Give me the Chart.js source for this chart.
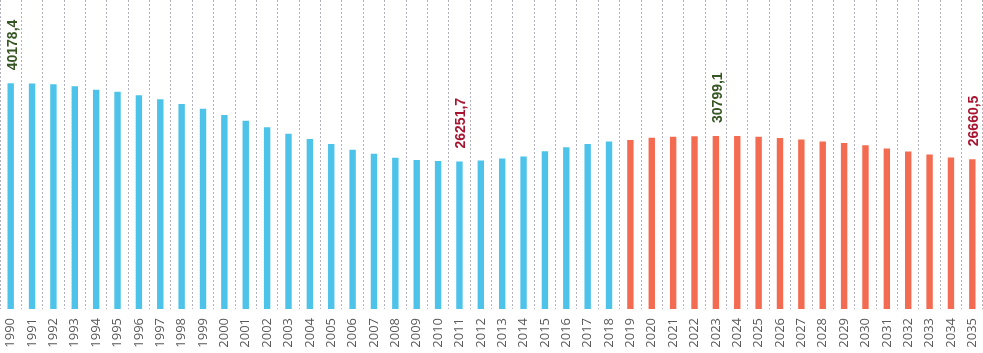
<!DOCTYPE html>
<html>
<head>
<meta charset="utf-8">
<script src="https://cdn.jsdelivr.net/npm/chart.js@4"></script>
<style>
  html, body { margin: 0; padding: 0; background: #fff; }
  #wrap { width: 983px; height: 353px; }
</style>
</head>
<body>
<div id="wrap"><canvas id="chart"></canvas></div>
<script>
const years = [];
for (let y = 1990; y <= 2035; y++) years.push(String(y));

// history 1990-2018, forecast 2019-2035
const actualValues = [
  40178.4, 40150, 40000, 39640, 39035, 38680, 38040, 37330, 36490, 35650,
  34530, 33520, 32340, 31200, 30260, 29370, 28355, 27640, 26930, 26520,
  26350, 26251.7, 26420, 26800, 27150, 28100, 28800, 29350, 29800
];
const forecastValues = [
  30100, 30500, 30650, 30760, 30799.1, 30780, 30650, 30450, 30150, 29800,
  29550, 29150, 28560, 28020, 27480, 26970, 26660.5
];

// highlighted values: year -> colour
const markedYears = ["1990", "2011", "2023", "2035"];
const markedColors = ["#375623", "#a8142f", "#375623", "#a8142f"];

const allValues = actualValues.concat(forecastValues);
const barColors = years.map((_, i) => i < actualValues.length ? "#4dc3e9" : "#f36c51");

const fmt = v => v.toFixed(1).replace(".", ",");

const valueLabels = {
  id: "valueLabels",
  afterDatasetsDraw(chart) {
    const ctx = chart.ctx;
    const meta = chart.getDatasetMeta(0);
    ctx.save();
    ctx.font = "bold 14px 'Liberation Sans', Arial, sans-serif";
    ctx.textAlign = "left";
    ctx.textBaseline = "middle";
    markedYears.forEach((yr, k) => {
      const i = years.indexOf(yr);
      const bar = meta.data[i];
      ctx.save();
      ctx.translate(bar.x + 2, bar.y - 13);
      ctx.rotate(-Math.PI / 2);
      ctx.fillStyle = markedColors[k];
      ctx.fillText(fmt(allValues[i]), 0, 0);
      ctx.restore();
    });
    ctx.restore();
  }
};

new Chart(document.getElementById("chart"), {
  type: "bar",
  data: {
    labels: years,
    datasets: [{
      data: allValues,
      backgroundColor: barColors,
      categoryPercentage: 1,
      barPercentage: 0.3
    }]
  },
  options: {
    responsive: true,
    maintainAspectRatio: false,
    animation: false,
    layout: { padding: 0 },
    plugins: {
      legend: { display: false },
      tooltip: { enabled: false }
    },
    scales: {
      x: {
        offset: true,
        grid: {
          offset: true,
          color: "#b0b0c0",
          lineWidth: 1,
          drawTicks: false
        },
        border: { display: false, dash: [2, 2] },
        ticks: {
          minRotation: 90,
          maxRotation: 90,
          autoSkip: false,
          padding: 9,
          color: "#595959",
          font: { family: "'Open Sans', sans-serif", size: 13 }
        },
        afterFit(scale) {
          scale.height = 44;
          scale.paddingLeft = 0;
          scale.paddingRight = 0;
        }
      },
      y: {
        display: false,
        min: 0,
        max: 55000
      }
    }
  },
  plugins: [valueLabels]
});
</script>
</body>
</html>
